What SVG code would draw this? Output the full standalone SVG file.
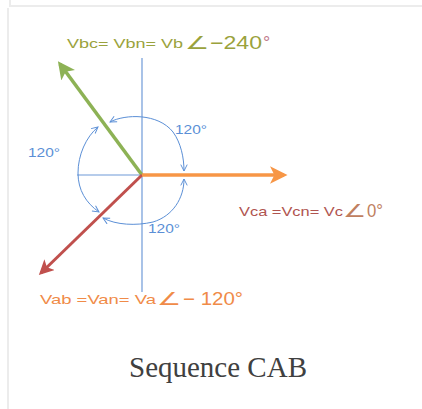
<svg xmlns="http://www.w3.org/2000/svg" width="422" height="409" viewBox="0 0 422 409">
<style>
.lbl{font-family:"Liberation Sans",Arial,sans-serif;font-size:13.5px}
.big{font-family:"Liberation Sans",Arial,sans-serif;font-size:18px}
.ang{fill:#5b8fd6;font-family:"Liberation Sans",Arial,sans-serif;font-size:13px}
.arc{fill:none;stroke:#5b8fd6;stroke-width:1}
.axis{stroke:#6f9ad8;stroke-width:1.2}
</style>
<defs>
<marker id="va" viewBox="0 0 10 10" refX="9" refY="5" markerWidth="8" markerHeight="8" markerUnits="userSpaceOnUse" orient="auto-start-reverse">
<path d="M1,1 L9,5 L1,9" fill="none" stroke="#5b8fd6" stroke-width="1.2"/>
</marker>
<marker id="ag" viewBox="0 0 10 10" refX="8" refY="5" markerWidth="5" markerHeight="5" orient="auto">
<path d="M0,0 L10,5 L0,10 L2.5,5 Z" fill="#8db255"/>
</marker>
<marker id="ar" viewBox="0 0 10 10" refX="8" refY="5" markerWidth="5" markerHeight="5" orient="auto">
<path d="M0,0 L10,5 L0,10 L2.5,5 Z" fill="#c0504d"/>
</marker>
<marker id="ao" viewBox="0 0 10 10" refX="8" refY="5" markerWidth="5" markerHeight="5" orient="auto">
<path d="M0,0 L10,5 L0,10 L2.5,5 Z" fill="#f79646"/>
</marker>
</defs>
<rect width="422" height="409" fill="#fff"/>
<g id="frame" stroke="#ececec" stroke-width="2" fill="none">
<path d="M10,0 V6 H422"/>
<path d="M8,8 V409"/>
</g>
<g id="axes">
<line class="axis" x1="142" y1="58" x2="142" y2="292"/>
<line class="axis" x1="77" y1="175" x2="142" y2="175"/>
</g>
<g id="connectors">
<path class="arc" d="M110,122 C125,114 158,113 173,132 C181,143 184,158 184,171" marker-start="url(#va)" marker-end="url(#va)"/>
<path class="arc" d="M98,127 C86,137 78,155 78,173 C78,190 86,203 99,212" marker-start="url(#va)" marker-end="url(#va)"/>
<path class="arc" d="M103,218 C116,225 136,226 153,222 C173,216 184,198 184,179" marker-start="url(#va)" marker-end="url(#va)"/>
<line x1="142" y1="175" x2="60" y2="64" stroke="#8db255" stroke-width="3.5" marker-end="url(#ag)"/>
<line x1="142" y1="175" x2="41" y2="273" stroke="#c0504d" stroke-width="3" marker-end="url(#ar)"/>
<line x1="142" y1="175" x2="284" y2="175" stroke="#f79646" stroke-width="3.5" marker-end="url(#ao)"/>
</g>
<g id="angle-labels">
<text class="ang" x="175" y="134" textLength="32" lengthAdjust="spacingAndGlyphs">120°</text>
<text class="ang" x="28" y="157" textLength="32" lengthAdjust="spacingAndGlyphs">120°</text>
<text class="ang" x="148" y="233" textLength="32" lengthAdjust="spacingAndGlyphs">120°</text>
</g>
<g id="vb-label">
<text class="lbl" x="67" y="48" fill="#9aa23c" textLength="116" lengthAdjust="spacingAndGlyphs">Vbc=  Vbn=  Vb</text>
<text class="big" x="185" y="49" fill="#9aa23c" textLength="24" lengthAdjust="spacingAndGlyphs">∠</text>
<text class="big" x="210" y="49" fill="#9aa23c" textLength="52" lengthAdjust="spacingAndGlyphs">−240</text>
<text class="big" x="263" y="49" fill="#c07a8a">°</text>
</g>
<g id="vc-label">
<text class="lbl" x="239" y="216" fill="#b0544f" textLength="104" lengthAdjust="spacingAndGlyphs">Vca =Vcn= Vc</text>
<text class="big" x="343" y="217" fill="#c08060" textLength="23" lengthAdjust="spacingAndGlyphs">∠</text>
<text class="big" x="367" y="217" fill="#c08060" textLength="16" lengthAdjust="spacingAndGlyphs">0°</text>
</g>
<g id="va-label">
<text class="lbl" x="40" y="304" fill="#f08b48" textLength="116" lengthAdjust="spacingAndGlyphs">Vab  =Van=  Va</text>
<text class="big" x="157" y="305" fill="#f08b48" textLength="24" lengthAdjust="spacingAndGlyphs">∠</text>
<text class="big" x="183" y="305" fill="#f08b48" textLength="60" lengthAdjust="spacingAndGlyphs">− 120°</text>
</g>
<g id="caption">
<text x="218" y="377" text-anchor="middle" font-family="'Liberation Serif','Times New Roman',serif" font-size="29" fill="#404040">Sequence CAB</text>
</g>
</svg>
